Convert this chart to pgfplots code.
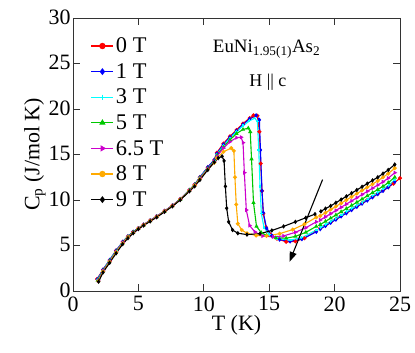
\documentclass[border=0pt]{standalone}
\usepackage{pgfplots}
\pgfplotsset{compat=1.18}
\usepackage{fontspec}
\setmainfont{Liberation Serif}
\usetikzlibrary{arrows.meta}
\definecolor{cRed}{RGB}{255,0,0}
\definecolor{cBlue}{RGB}{0,0,255}
\definecolor{cCyan}{RGB}{0,255,255}
\definecolor{cGreen}{RGB}{0,200,0}
\definecolor{cMag}{RGB}{204,0,204}
\definecolor{cOrange}{RGB}{255,170,0}
\begin{document}
\begin{tikzpicture}
\begin{axis}[
  scale only axis, width=327bp, height=273bp,
  xmin=0, xmax=25, ymin=0, ymax=30,
  xtick={0,5,...,25}, ytick={0,5,...,30},
  tick align=inside, major tick length=7bp,
  axis line style={line width=0.8bp, black!80},
  every tick/.style={line width=0.8bp, black!80},
  /pgf/number format/assume math mode=true,
  tick label style={font=\fontsize{22}{26}\selectfont},
  xticklabel style={yshift=-2bp},
  yticklabel style={xshift=1bp, yshift=1bp},
  label style={font=\fontsize{22}{26}\selectfont},
  xlabel={T (K)},
  ylabel={C\textsubscript{p} (J/mol K)},
  xlabel style={yshift=3bp},
  ylabel style={yshift=-4bp},
  unbounded coords=jump,
  every axis plot/.append style={line width=1.1bp, mark size=1.4bp},
  legend style={draw=none, fill=none, at={(axis cs:1.35,28.35)}, anchor=north west,
    font=\fontsize{22.5}{26}\selectfont, inner xsep=0bp, inner ysep=0bp},
  legend cell align=left,
  legend image code/.code={\path[draw=none,fill=none] (0bp,-12.8bp) rectangle (22bp,12.8bp);\draw[mark repeat=2,mark phase=2,mark size=2.6bp] plot coordinates {(0bp,0bp)(11bp,0bp)(22bp,0bp)};},
]
% 0 T
\addplot[color=cRed, mark=*] coordinates {
(1.84,1.32)(2.3,2.35)(2.8,3.4)(3.3,4.45)(3.8,5.4)(4.2,6.0)(4.6,6.5)(5.0,6.9)(5.4,7.3)(5.9,7.75)(6.4,8.2)(7.0,8.8)(7.6,9.4)(8.2,10.1)(8.9,11.1)(9.3,11.7)(9.7,12.5)(10.3,13.6)(10.8,14.4)(11.0,15.2)(11.5,16.2)(12.0,17.0)(12.5,17.7)(13.0,18.4)(13.5,19.0)(13.8,19.3)(14.1,19.25)(14.25,17.5)(14.35,14.0)(14.45,11.0)(14.55,8.5)(14.75,7.0)(15.1,6.2)(15.6,5.75)(16.3,5.4)(17.0,5.45)(17.7,5.8)(18.6,6.6)(18.75,nan)(18.9,6.9)(19.3,7.2)(19.7,7.55)(20.1,7.9)(20.5,8.25)(20.9,8.6)(21.3,8.95)(21.7,9.3)(22.1,9.65)(22.5,10.0)(22.9,10.35)(23.3,10.7)(23.7,11.05)(24.1,11.4)(24.5,11.8)(25.0,12.4)};
% 1 T
\addplot[color=cBlue, mark=diamond*] coordinates {
(1.86,1.28)(2.3,2.35)(2.8,3.4)(3.3,4.45)(3.8,5.4)(4.2,6.0)(4.6,6.5)(5.0,6.9)(5.4,7.3)(5.9,7.75)(6.4,8.2)(7.0,8.8)(7.6,9.4)(8.2,10.1)(8.9,11.1)(9.3,11.7)(9.7,12.5)(10.3,13.6)(10.8,14.4)(11.0,15.1)(11.5,16.1)(12.0,16.9)(12.5,17.6)(13.0,18.3)(13.5,18.9)(14.0,19.3)(14.25,18.8)(14.33,15.5)(14.45,11.0)(14.55,8.6)(14.8,6.9)(15.2,6.1)(15.8,5.65)(16.6,5.45)(17.5,5.7)(18.6,6.5)(18.75,nan)(18.9,6.8)(19.3,7.15)(19.7,7.5)(20.1,7.85)(20.5,8.2)(20.9,8.55)(21.3,8.9)(21.7,9.25)(22.1,9.6)(22.5,9.95)(22.9,10.3)(23.3,10.65)(23.7,11.0)(24.1,11.4)(24.6,12.0)};
% 3 T
\addplot[color=cCyan, mark=+] coordinates {
(1.88,1.22)(2.3,2.3)(2.8,3.35)(3.3,4.4)(3.8,5.35)(4.2,5.95)(4.6,6.45)(5.0,6.85)(5.4,7.25)(5.9,7.7)(6.4,8.15)(7.0,8.75)(7.6,9.35)(8.2,10.05)(8.9,11.05)(9.3,11.65)(9.7,12.45)(10.3,13.5)(10.8,14.3)(11.0,15.0)(11.5,15.95)(12.0,16.8)(12.5,17.5)(13.0,18.15)(13.5,18.7)(13.9,19.0)(14.1,18.6)(14.2,15.5)(14.3,11.5)(14.4,8.5)(14.6,7.0)(15.0,6.2)(15.6,5.75)(16.6,5.6)(17.5,5.85)(18.6,6.7)(18.75,nan)(18.9,6.95)(19.3,7.3)(19.7,7.65)(20.1,8.0)(20.5,8.35)(20.9,8.7)(21.3,9.05)(21.7,9.4)(22.1,9.75)(22.5,10.1)(22.9,10.45)(23.3,10.8)(23.7,11.2)(24.1,11.6)(24.6,12.2)};
% 5 T
\addplot[color=cGreen, mark=triangle*] coordinates {
(1.9,1.18)(2.3,2.25)(2.8,3.3)(3.3,4.35)(3.8,5.3)(4.2,5.95)(4.6,6.45)(5.0,6.85)(5.4,7.25)(5.9,7.7)(6.4,8.15)(7.0,8.75)(7.6,9.35)(8.2,10.05)(8.9,11.05)(9.3,11.65)(9.7,12.4)(10.3,13.45)(10.8,14.25)(11.0,14.9)(11.5,15.8)(12.0,16.6)(12.5,17.3)(13.0,17.75)(13.4,17.9)(13.55,17.5)(13.65,14.5)(13.8,9.7)(14.03,7.1)(14.4,6.4)(14.8,6.1)(15.5,5.85)(16.3,5.8)(17.0,6.0)(17.8,6.45)(18.6,7.1)(18.75,nan)(18.9,7.3)(19.3,7.65)(19.7,8.0)(20.1,8.35)(20.5,8.7)(20.9,9.05)(21.3,9.4)(21.7,9.75)(22.1,10.1)(22.5,10.45)(22.9,10.8)(23.3,11.15)(23.7,11.5)(24.1,11.9)(24.6,12.5)};
% 6.5 T
\addplot[color=cMag, mark=triangle*, mark options={rotate=-90}] coordinates {
(1.92,1.12)(2.3,2.2)(2.8,3.25)(3.3,4.3)(3.8,5.3)(4.2,5.9)(4.6,6.4)(5.0,6.85)(5.4,7.25)(5.9,7.7)(6.4,8.15)(7.0,8.75)(7.6,9.35)(8.2,10.05)(8.9,11.0)(9.3,11.6)(9.7,12.35)(10.3,13.4)(10.8,14.2)(11.0,14.8)(11.5,15.7)(12.0,16.4)(12.5,16.85)(12.85,16.9)(13.0,16.3)(13.1,13.0)(13.25,8.9)(13.5,7.2)(13.9,6.5)(14.5,6.05)(15.3,5.95)(16.1,6.05)(17.0,6.45)(17.8,6.95)(18.6,7.6)(18.75,nan)(18.9,7.8)(19.3,8.15)(19.7,8.5)(20.1,8.85)(20.5,9.2)(20.9,9.55)(21.3,9.9)(21.7,10.25)(22.1,10.6)(22.5,10.95)(22.9,11.3)(23.3,11.65)(23.7,12.0)(24.1,12.4)(24.6,13.0)};
% 8 T
\addplot[color=cOrange, mark=*] coordinates {
(1.94,1.08)(2.3,2.15)(2.8,3.2)(3.3,4.25)(3.8,5.25)(4.2,5.9)(4.6,6.4)(5.0,6.85)(5.4,7.25)(5.9,7.7)(6.4,8.15)(7.0,8.75)(7.6,9.35)(8.2,10.05)(8.9,11.0)(9.3,11.6)(9.7,12.3)(10.3,13.35)(10.8,14.1)(11.0,14.6)(11.5,15.3)(12.1,15.7)(12.3,15.4)(12.38,12.5)(12.48,9.5)(12.6,7.4)(12.9,6.7)(13.3,6.35)(14.0,6.1)(14.8,6.05)(15.8,6.3)(16.8,6.75)(17.7,7.35)(18.6,8.1)(18.75,nan)(18.9,8.25)(19.3,8.6)(19.7,8.95)(20.1,9.3)(20.5,9.65)(20.9,10.0)(21.3,10.35)(21.7,10.7)(22.1,11.05)(22.5,11.4)(22.9,11.75)(23.3,12.1)(23.7,12.5)(24.1,12.9)(24.6,13.5)};
% 9 T
\addplot[color=black, mark=diamond*] coordinates {
(1.96,1.03)(2.3,2.05)(2.8,3.1)(3.3,4.15)(3.8,5.15)(4.2,5.8)(4.6,6.35)(5.0,6.8)(5.4,7.2)(5.9,7.65)(6.4,8.1)(7.0,8.7)(7.6,9.3)(8.2,10.0)(8.9,10.95)(9.3,11.5)(9.7,12.2)(10.3,13.3)(10.8,14.15)(11.1,14.6)(11.4,14.8)(11.55,14.3)(11.65,11.5)(11.75,9.1)(11.9,7.6)(12.2,6.7)(12.6,6.35)(13.3,6.2)(14.3,6.3)(15.2,6.65)(16.1,7.1)(17.0,7.6)(17.8,8.05)(18.5,8.45)(18.75,nan)(18.95,8.75)(19.3,9.05)(19.7,9.35)(20.1,9.7)(20.5,10.05)(20.9,10.4)(21.3,10.75)(21.7,11.1)(22.1,11.45)(22.5,11.8)(22.9,12.15)(23.3,12.5)(23.7,12.9)(24.1,13.3)(24.6,13.9)};
\legend{0 T,1 T,3 T,5 T,6.5 T,8 T,9 T}
\node[font=\fontsize{19}{22}\selectfont] at (axis cs:14.8,26.6) {EuNi\textsubscript{1.95(1)}As\textsubscript{2}};
\node[font=\fontsize{18}{22}\selectfont] at (axis cs:14.9,22.9) {H || c};
\draw[line width=1.1bp, -{Triangle[length=10bp,width=7bp]}] (axis cs:19.08,12.24) -- (axis cs:16.55,3.2);
\end{axis}
\pgfresetboundingbox
\path[use as bounding box] (current axis.south west) ++(-73bp,-62bp) rectangle ++(415bp,353bp);
\end{tikzpicture}
\end{document}
